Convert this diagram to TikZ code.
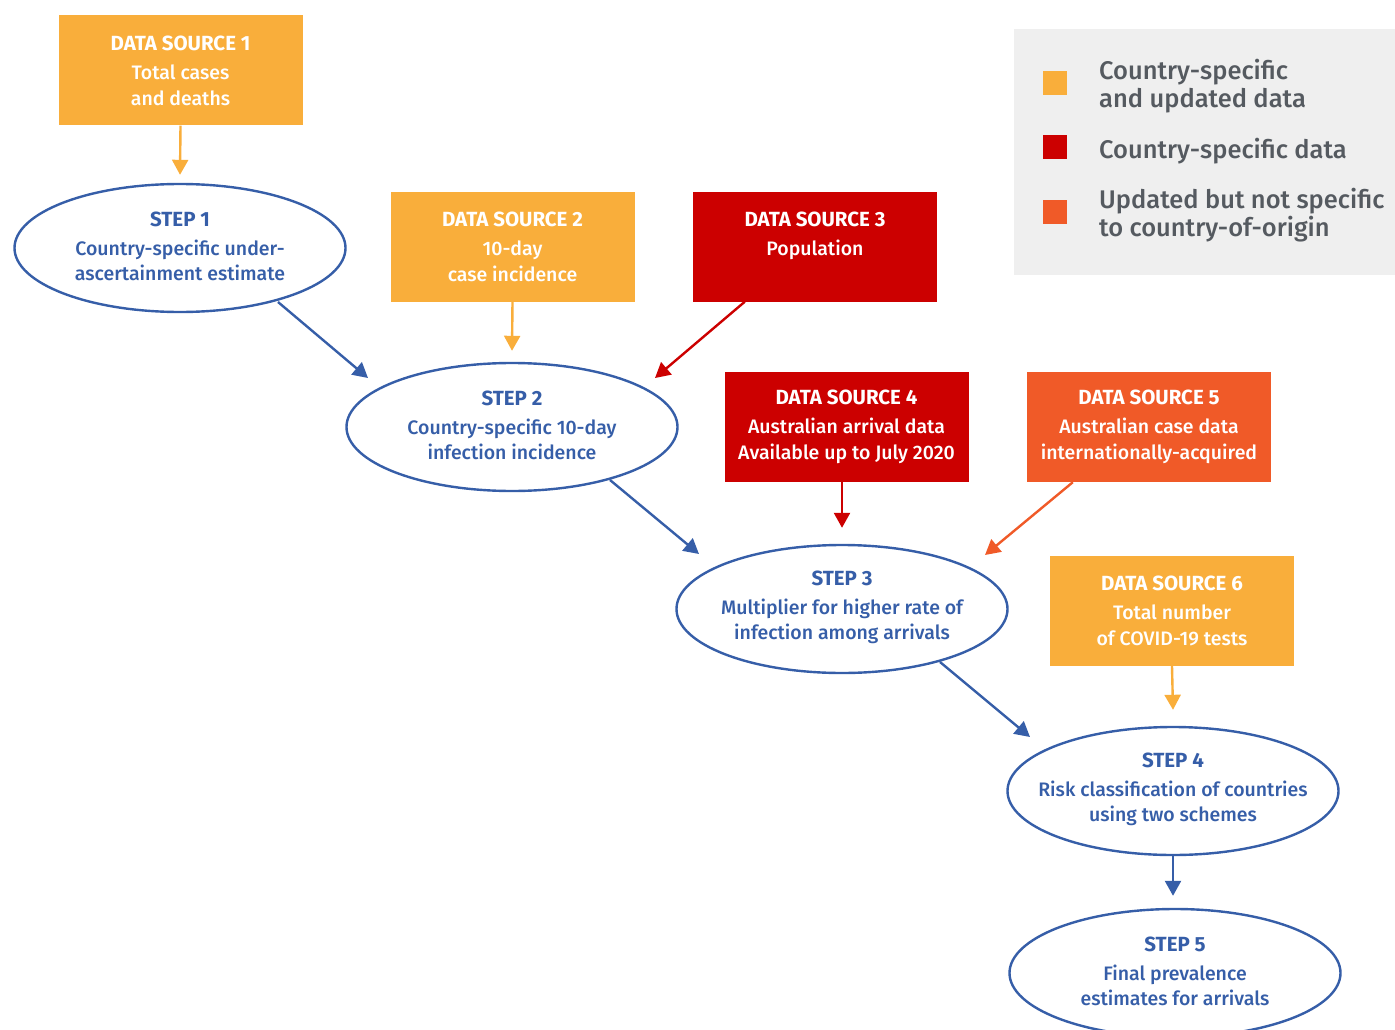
\documentclass[tikz,border=0pt]{standalone}
\usepackage{fontspec}
\setmainfont{Fira Sans}[UprightFont=* Medium]
\newfontfamily\headfont{Fira Sans}
\newcommand\head[1]{{\headfont\bfseries\fontsize{20.5}{26}\selectfont #1}}
\usetikzlibrary{arrows.meta,shapes.geometric,calc}
\definecolor{dsyellow}{RGB}{249,174,59}
\definecolor{dsred}{RGB}{204,0,0}
\definecolor{dsorange}{RGB}{240,90,40}
\definecolor{stepblue}{RGB}{54,94,168}
\definecolor{legendgrey}{RGB}{239,239,239}
\definecolor{legendtext}{RGB}{85,90,96}
\begin{document}
\begin{tikzpicture}[x=1pt,y=-1pt,
  source/.style={rectangle, fill=#1, text=white, minimum width=244pt, minimum height=110pt,
    inner sep=0pt, align=center, font=\fontsize{19.5}{26}\selectfont},
  stepnode/.style={ellipse, draw=stepblue, line width=2.4pt, fill=white, minimum width=331pt,
    minimum height=128pt, inner sep=0pt},
  steptext/.style={align=center, text=stepblue, inner sep=0pt,
    font=\fontsize{19.5}{25}\selectfont},
  flow/.style={draw=#1, line width=2.4pt, -{Triangle[length=15pt,width=16pt]}},
  swatch/.style={rectangle, fill=#1, minimum size=24pt, inner sep=0pt},
  legendlabel/.style={anchor=west, align=left, text=legendtext, inner sep=0pt,
    font=\fontsize{25.5}{28}\selectfont},
]
\useasboundingbox (0,0) rectangle (1395,1030);

% data sources
\node[source=dsyellow] (ds1) at (180.5,70.5)
  {\head{DATA SOURCE 1}\\[3pt]Total cases\\and deaths};
\node[source=dsyellow] (ds2) at (512.5,246.5)
  {\head{DATA SOURCE 2}\\[3pt]10-day\\case incidence};
\node[source=dsred] (ds3) at (815,246.5)
  {\head{DATA SOURCE 3}\\[3pt]Population\\\mbox{}};
\node[source=dsred] (ds4) at (846.5,427)
  {\head{DATA SOURCE 4}\\[3pt]Australian arrival data\\Available up to July 2020};
\node[source=dsorange] (ds5) at (1149,427)
  {\head{DATA SOURCE 5}\\[3pt]Australian case data\\internationally-acquired};
\node[source=dsyellow] (ds6) at (1172,611)
  {\head{DATA SOURCE 6}\\[3pt]Total number\\of COVID-19 tests};

% steps: outline and wording
\node[stepnode] (s1) at (180,248) {};
\node[steptext] (t1) at ($(s1.center)+(0,-2)$)
  {\head{STEP 1}\\[4pt]Country-specific under-\\ascertainment estimate};
\node[stepnode] (s2) at (512,427) {};
\node[steptext] (t2) at ($(s2.center)+(0,-2)$)
  {\head{STEP 2}\\[4pt]Country-specific 10-day\\infection incidence};
\node[stepnode] (s3) at (842,609) {};
\node[steptext] (t3) at ($(s3.center)+(0,-2)$)
  {\head{STEP 3}\\[4pt]Multiplier for higher rate of\\infection among arrivals};
\node[stepnode] (s4) at (1173,791) {};
\node[steptext] (t4) at ($(s4.center)+(0,-2)$)
  {\head{STEP 4}\\[4pt]Risk classification of countries\\using two schemes};
\node[stepnode] (s5) at (1175,973) {};
\node[steptext] (t5) at ($(s5.center)+(0,-2)$)
  {\head{STEP 5}\\[4pt]Final prevalence\\estimates for arrivals};

% connectors
\draw[flow=dsyellow] (ds1.south) -- ($(s1.north)+(0,-8)$);
\draw[flow=stepblue] ($(s1.center)+(98,54)$) -- ($(s2.center)+(-144,-49)$);
\draw[flow=dsyellow] (ds2.south) -- ($(s2.north)+(0,-11)$);
\draw[flow=dsred] ($(ds3.south west)+(52,0)$) -- ($(s2.center)+(143,-49)$);
\draw[flow=stepblue] ($(s2.center)+(98,53)$) -- ($(s3.center)+(-143,-55)$);
\draw[flow=dsred] ($(ds4.south)+(-4.5,0)$) -- ($(s3.north)+(0,-16)$);
\draw[flow=dsorange] ($(ds5.south west)+(46,0)$) -- ($(s3.center)+(143,-54)$);
\draw[flow=stepblue] ($(s3.center)+(98,53)$) -- ($(s4.center)+(-143,-54)$);
\draw[flow=dsyellow] (ds6.south) -- ($(s4.north)+(0,-16)$);
\draw[flow=stepblue] (s4.south) -- ($(s5.north)+(-2,-12)$);

% legend
\node[rectangle, fill=legendgrey, minimum width=381pt, minimum height=246pt, inner sep=0pt,
  anchor=north west] (legend) at (1014,29) {};
\node[swatch=dsyellow] (sw1) at (1055,83) {};
\node[swatch=dsred] (sw2) at (1055,147) {};
\node[swatch=dsorange] (sw3) at (1055,212) {};
\node[legendlabel] (lb1) at (1099,86) {Country-specific\\and updated data};
\node[legendlabel] (lb2) at (1099,151) {Country-specific data};
\node[legendlabel] (lb3) at (1099,215) {Updated but not specific\\to country-of-origin};
\end{tikzpicture}
\end{document}
